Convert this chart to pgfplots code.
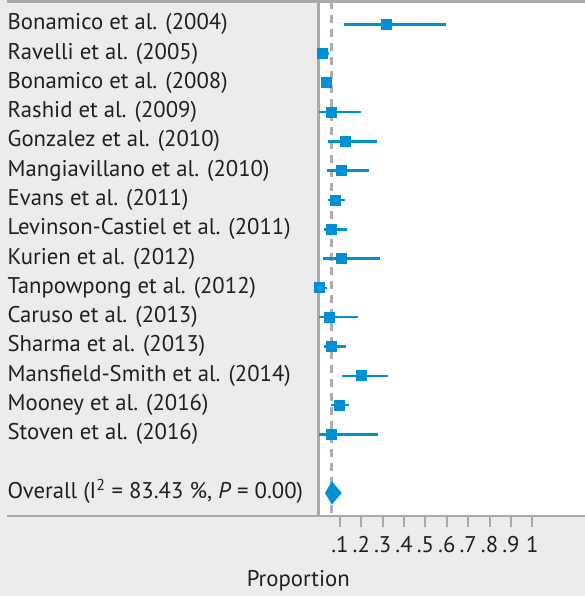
\documentclass[border=0pt]{standalone}
\usepackage{pgfplots}
\usepackage{pgfplotstable}
\pgfplotsset{compat=1.18}
\usepackage{fontspec}
\setmainfont{PT Sans}
\definecolor{bg}{RGB}{235,236,235}
\definecolor{lg}{RGB}{167,169,172}
\definecolor{dg}{RGB}{172,173,176}
\definecolor{bl}{RGB}{0,145,213}
\definecolor{tx}{RGB}{35,31,32}

\pgfplotstableread{
row est lo hi
1 0.320 0.120 0.597
2 0.016 0.000 0.047
3 0.035 0.020 0.050
4 0.062 0.000 0.200
5 0.128 0.042 0.272
6 0.109 0.039 0.234
7 0.078 0.045 0.124
8 0.061 0.025 0.131
9 0.109 0.022 0.287
10 0.006 0.000 0.037
11 0.053 0.000 0.184
12 0.061 0.025 0.127
13 0.203 0.108 0.323
14 0.100 0.058 0.141
15 0.058 0.000 0.277
}\studies

\begin{document}
\begin{tikzpicture}[x=1bp,y=1bp]
\useasboundingbox (0,0) rectangle (585,596);
\fill[bg] (0,0) rectangle (585,596);
\begin{axis}[
  at={(318.6bp,80.3bp)}, anchor=south west,
  scale only axis, width=266.4bp, height=514.4bp,
  xmin=0, xmax=1.2466, ymin=0.215, ymax=17.777, y dir=reverse,
  axis background/.style={fill=white},
  axis line style={draw=none},
  ytick=\empty,
  xtick={0.1,0.2,0.3,0.4,0.5,0.6,0.7,0.8,0.9,1},
  xticklabels={.1,.2,.3,.4,.5,.6,.7,.8,.9,1},
  xtick pos=left, tick align=outside,
  major tick length=11bp,
  tick style={draw=lg, line width=2bp},
  xticklabel style={font=\fontsize{22.8}{26}\selectfont, text=tx, anchor=base, yshift=-26bp, inner sep=0pt},
  clip=false,
]
\addplot[dg, line width=2.8bp, dash pattern=on 8bp off 6bp, forget plot] coordinates {(0.062,0.215) (0.062,17.777)};
\addplot[lg, line width=2.5bp, forget plot] coordinates {(0,0.215) (0,17.777)};
\addplot[color=bl, only marks, mark=square*, mark size=5bp, mark options={fill=bl, draw=bl, line width=0pt}, forget plot,
  error bars/.cd, x dir=both, x explicit, error mark=none,
  error bar style={color=bl, line width=2.5bp}]
  table[x=est, y=row, x error plus expr=\thisrow{hi}-\thisrow{est}, x error minus expr=\thisrow{est}-\thisrow{lo}] {\studies};
\addplot[fill=bl, draw=none, forget plot] coordinates {(0.030,17) (0.062,16.6) (0.108,17) (0.062,17.4)} -- cycle;

\pgfplotsforeachungrouped \i/\t in {
 1/{Bonamico et al. (2004)},
 2/{Ravelli et al. (2005)},
 3/{Bonamico et al. (2008)},
 4/{Rashid et al. (2009)},
 5/{Gonzalez et al. (2010)},
 6/{Mangiavillano et al. (2010)},
 7/{Evans et al. (2011)},
 8/{Levinson-Castiel et al. (2011)},
 9/{Kurien et al. (2012)},
 10/{Tanpowpong et al. (2012)},
 11/{Caruso et al. (2013)},
 12/{Sharma et al. (2013)},
 13/{Mansfield-Smith et al. (2014)},
 14/{Mooney et al. (2016)},
 15/{Stoven et al. (2016)}} {
  \edef\temp{\noexpand\node[anchor=base west, inner sep=0pt, text=tx, font=\noexpand\fontsize{22.8}{26}\noexpand\selectfont, yshift=-5.5bp] at (axis cs:-1.456,\i) {\t};}
  \temp
}
\node[anchor=base west, inner sep=0pt, text=tx, font=\fontsize{22.8}{26}\selectfont, yshift=-5.5bp] at (axis cs:-1.456,17) {Overall (I\textsuperscript{2} = 83.43~\%, \textit{P} = 0.00)};
\node[anchor=base, inner sep=0pt, text=tx, font=\fontsize{22.8}{26}\selectfont] at (axis cs:-0.095,20.18) {Proportion};
\end{axis}
\draw[lg, line width=2.6bp] (7,594.7) -- (585,594.7);
\draw[lg, line width=2.2bp] (7,80.3) -- (585,80.3);
\end{tikzpicture}
\end{document}
